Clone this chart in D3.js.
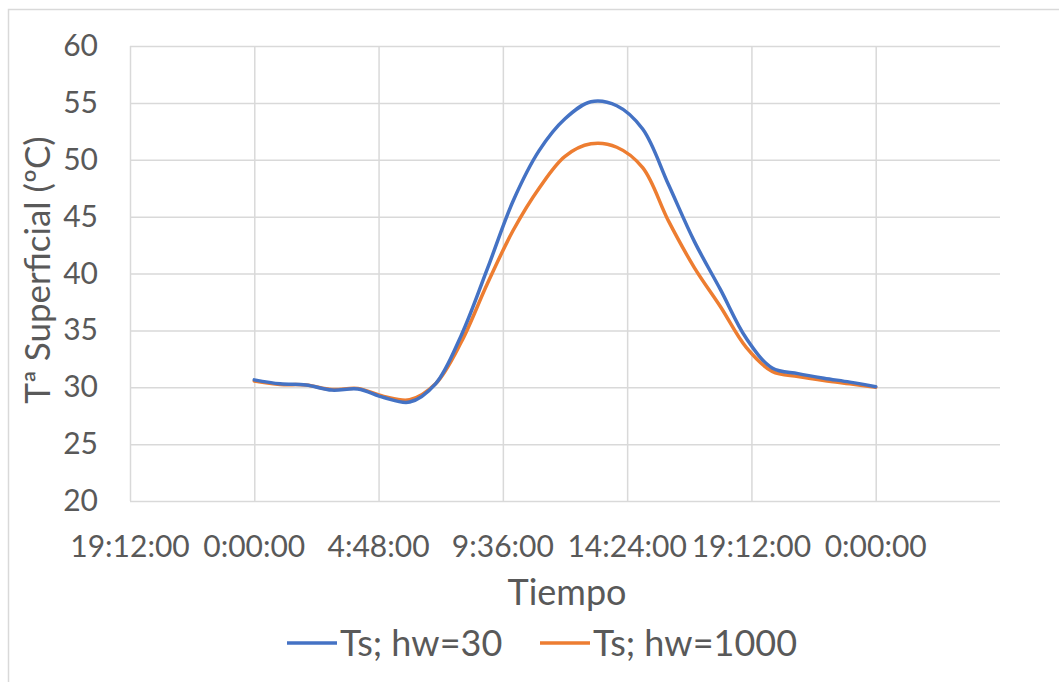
<!DOCTYPE html>
<html>
<head>
<meta charset="utf-8">
<script src="https://cdn.jsdelivr.net/npm/d3@7"></script>
<style>
  html, body { margin: 0; padding: 0; background: #fff; }
  svg { display: block; }
</style>
</head>
<body>
<div id="chart"></div>
<script>
// Hours of the day (0 = 0:00:00, 24 = next 0:00:00)
const hours = [0, 1, 2, 3, 4, 5, 6, 7, 8, 9, 10, 11, 12, 13, 14, 15, 16, 17, 18, 19, 20, 21, 22, 23, 24];

// Surface temperature, hw = 30
const tsHw30 = [30.65, 30.3, 30.2, 29.75, 29.85, 29.1, 28.7, 30.3, 34.6, 40.4, 46.4, 50.8, 53.6, 55.1,
  54.75, 52.7, 47.8, 42.8, 38.6, 34.3, 31.7, 31.2, 30.8, 30.45, 30.05];

// Surface temperature, hw = 1000
const tsHw1000 = [30.55, 30.25, 30.2, 29.8, 29.9, 29.2, 28.9, 30.3, 34.0, 39.1, 43.8, 47.5, 50.3, 51.4,
  51.1, 49.3, 44.6, 40.5, 37.1, 33.5, 31.4, 30.95, 30.6, 30.3, 30.0];

// x ticks in hours and their labels (Excel time format)
const xTicks = [-4.8, 0, 4.8, 9.6, 14.4, 19.2, 24];
const xTickLabels = ['19:12:00', '0:00:00', '4:48:00', '9:36:00', '14:24:00', '19:12:00', '0:00:00'];
const yTicks = [20, 25, 30, 35, 40, 45, 50, 55, 60];

const series = [
  { name: 'Ts; hw=30', values: tsHw30, color: '#4472C4' },
  { name: 'Ts; hw=1000', values: tsHw1000, color: '#ED7D31' }
];

const width = 1059;
const height = 682;
const font = 'Lato, "Open Sans", sans-serif';
const textColor = '#595959';
const gridColor = '#d9d9d9';

const plot = { left: 130, right: 1000, top: 46, bottom: 501 };

const svg = d3.select('#chart')
  .append('svg')
  .attr('width', width)
  .attr('height', height);

// Chart area border (runs off the right and bottom of the picture)
svg.append('rect')
  .attr('x', 8.5)
  .attr('y', 9.5)
  .attr('width', width + 20)
  .attr('height', height + 20)
  .attr('fill', '#fff')
  .attr('stroke', gridColor)
  .attr('stroke-width', 1.5);

const x = d3.scaleLinear()
  .domain([-4.8, 28.8])
  .range([plot.left, plot.right]);

const y = d3.scaleLinear()
  .domain([20, 60])
  .range([plot.bottom, plot.top]);

// Horizontal gridlines
svg.append('g')
  .attr('transform', `translate(${plot.left},0)`)
  .call(d3.axisLeft(y)
    .tickValues(yTicks)
    .tickSize(-(plot.right - plot.left))
    .tickFormat(''))
  .call(g => g.select('.domain').remove())
  .call(g => g.selectAll('line').attr('stroke', gridColor).attr('stroke-width', 1.5));

// Vertical gridlines
svg.append('g')
  .attr('transform', `translate(0,${plot.bottom})`)
  .call(d3.axisBottom(x)
    .tickValues(xTicks)
    .tickSize(-(plot.bottom - plot.top))
    .tickFormat(''))
  .call(g => g.select('.domain').remove())
  .call(g => g.selectAll('line').attr('stroke', gridColor).attr('stroke-width', 1.5));

// Y tick labels
svg.append('g')
  .attr('transform', `translate(${plot.left - 32},0)`)
  .call(d3.axisLeft(y).tickValues(yTicks).tickSize(0).tickPadding(0))
  .call(g => g.select('.domain').remove())
  .call(g => g.selectAll('text')
    .attr('fill', textColor)
    .attr('font-family', font)
    .attr('font-size', '30px'));

// X tick labels
svg.append('g')
  .attr('class', 'x-labels')
  .call(g => g.selectAll('text')
    .data(xTicks)
    .enter()
    .append('text')
    .attr('x', d => x(d))
    .attr('y', 557)
    .attr('text-anchor', 'middle')
    .attr('fill', textColor)
    .attr('font-family', font)
    .attr('font-size', '30px')
    .text((d, i) => xTickLabels[i]));

// Axis titles
svg.append('text')
  .attr('transform', `translate(50,270) rotate(-90)`)
  .attr('text-anchor', 'middle')
  .attr('fill', textColor)
  .attr('font-family', font)
  .attr('font-size', '35px')
  .text('Tª Superficial (ºC)');

svg.append('text')
  .attr('x', 567)
  .attr('y', 605)
  .attr('text-anchor', 'middle')
  .attr('fill', textColor)
  .attr('font-family', font)
  .attr('font-size', '36px')
  .text('Tiempo');

// Lines (smoothed like Excel)
const line = d3.line()
  .x((d, i) => x(hours[i]))
  .y(d => y(d))
  .curve(d3.curveCatmullRom.alpha(0.5));

svg.selectAll('.series')
  .data(series.slice().reverse())
  .enter()
  .append('path')
  .attr('class', 'series')
  .attr('d', d => line(d.values))
  .attr('fill', 'none')
  .attr('stroke', d => d.color)
  .attr('stroke-width', 3.5)
  .attr('stroke-linejoin', 'round')
  .attr('stroke-linecap', 'round');

// Legend
const legendX = [287, 540];
const legendY = 643;
const legend = svg.selectAll('.legend')
  .data(series)
  .enter()
  .append('g')
  .attr('class', 'legend')
  .attr('transform', (d, i) => `translate(${legendX[i]},${legendY})`);

legend.append('line')
  .attr('x1', 0)
  .attr('x2', 50)
  .attr('y1', 0)
  .attr('y2', 0)
  .attr('stroke', d => d.color)
  .attr('stroke-width', 3.5);

legend.append('text')
  .attr('x', 53)
  .attr('y', 0)
  .attr('dy', '0.35em')
  .attr('fill', textColor)
  .attr('font-family', font)
  .attr('font-size', '36px')
  .text(d => d.name);
</script>
</body>
</html>
